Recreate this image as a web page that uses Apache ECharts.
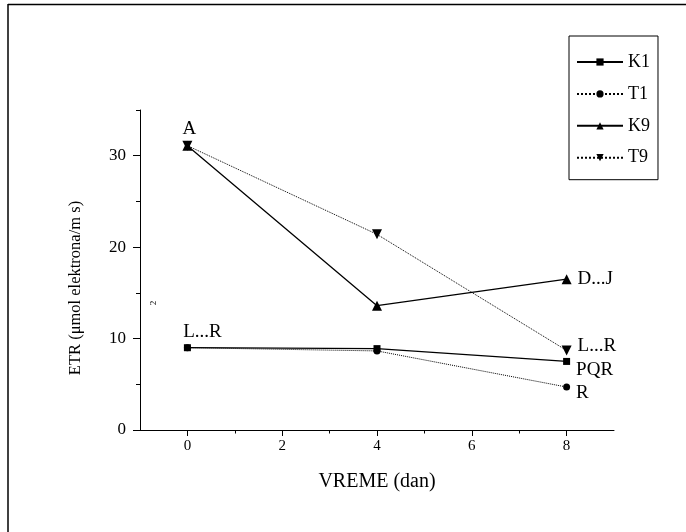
<!DOCTYPE html>
<html>
<head>
<meta charset="utf-8">
<script src="https://cdn.jsdelivr.net/npm/echarts@6/dist/echarts.min.js"></script>
<style>html,body{margin:0;padding:0;background:#fff}#c{width:686px;height:532px}</style>
</head>
<body>
<div id="c"></div>
<script>
// ---- data ----
const days = [0, 4, 8];
const seriesNames = ['K1', 'T1', 'K9', 'T9'];
const k1 = [9.0, 8.9, 7.5];
const t1 = [9.0, 8.65, 4.7];
const k9 = [31.1, 13.6, 16.5];
const t9 = [31.1, 21.4, 8.7];
const k1Labels = ['L...R', '', 'PQR'];
const t1Labels = ['', '', 'R'];
const k9Labels = ['A', '', 'D...J'];
const t9Labels = ['', '', 'L...R'];
const xMajorTicks = [0, 2, 4, 6, 8];
const xMinorTicks = [1, 3, 5, 7];
const yMajorTicks = [0, 10, 20, 30];
const yMinorTicks = [5, 15, 25, 35];
const xTitle = 'VREME (dan)';
const yTitle = 'ETR (\u03bcmol elektrona/m s)';

const FONT = '"Liberation Serif", "DejaVu Serif", serif';

// label styles by point index (styles only)
function labelStyle(idx, series) {
  if (idx === 0 && series === 'K9') return {position: 'top', distance: 2, offset: [2, 0]};
  if (idx === 0 && series === 'K1') return {position: 'top', distance: 3, offset: [15, 0]};
  if (series === 'K9') return {position: 'right', distance: 6, offset: [0, 0]};
  if (series === 'T9') return {position: 'right', distance: 6, offset: [0, -4]};
  if (series === 'K1') return {position: 'right', distance: 6, offset: [0, 9]};
  if (series === 'T1') return {position: 'right', distance: 6, offset: [0, 6]};
  return {position: 'right'};
}
function build(name, vals, labels) {
  return days.map((d, i) => {
    const o = {value: [d, vals[i]]};
    if (labels[i]) {
      o.label = Object.assign({show: true, formatter: labels[i], color: '#000', fontFamily: FONT, fontSize: 19}, labelStyle(i, name));
    }
    return o;
  });
}

const lineSolid = {color: '#000', width: 1.3, type: 'solid'};
const lineDot = {color: '#000', width: 1, type: 'dotted'};

const chart = echarts.init(document.getElementById('c'), null, {renderer: 'canvas'});
chart.setOption({
  animation: false,
  backgroundColor: '#fff',
  textStyle: {fontFamily: FONT},
  grid: {left: 140, top: 110, right: 72, bottom: 102},
  legend: {
    orient: 'vertical',
    left: 569, top: 36,
    data: seriesNames,
    itemWidth: 46, itemHeight: 9, itemGap: 13.9,
    padding: [17, 8, 13, 7],
    borderColor: '#000', borderWidth: 1,
    textStyle: {fontFamily: FONT, fontSize: 18, color: '#000'}
  },
  xAxis: [
    {
      type: 'value', min: -1, max: 9, interval: 1, position: 'bottom',
      name: xTitle, nameLocation: 'middle', nameGap: 42,
      nameTextStyle: {fontFamily: FONT, fontSize: 20, color: '#000'},
      axisLine: {show: true, onZero: false, lineStyle: {color: '#000', width: 1}},
      splitLine: {show: false},
      axisTick: {show: true, length: 6, customValues: xMajorTicks, lineStyle: {color: '#000'}},
      axisLabel: {show: true, customValues: xMajorTicks, margin: 9, fontFamily: FONT, fontSize: 15, color: '#000'}
    },
    {
      type: 'value', min: -1, max: 9, interval: 1, position: 'bottom',
      axisLine: {show: false, onZero: false},
      splitLine: {show: false},
      axisTick: {show: true, length: 3.5, customValues: xMinorTicks, lineStyle: {color: '#000'}},
      axisLabel: {show: false}
    }
  ],
  yAxis: [
    {
      type: 'value', min: 0, max: 35, interval: 5, position: 'left',
      name: yTitle, nameLocation: 'middle', nameGap: 56,
      nameTextStyle: {fontFamily: FONT, fontSize: 16.5, color: '#000', padding: [0, 36, 0, 0]},
      axisLine: {show: true, onZero: false, lineStyle: {color: '#000', width: 1}},
      splitLine: {show: false},
      axisTick: {show: true, length: 7, customValues: yMajorTicks, lineStyle: {color: '#000'}},
      axisLabel: {show: true, customValues: yMajorTicks, margin: 14, fontFamily: FONT, fontSize: 17, color: '#000'}
    },
    {
      type: 'value', min: 0, max: 35, interval: 5, position: 'left',
      axisLine: {show: false, onZero: false},
      splitLine: {show: false},
      axisTick: {show: true, length: 4, customValues: yMinorTicks, lineStyle: {color: '#000'}},
      axisLabel: {show: false}
    }
  ],
  series: [
    {name: 'K1', type: 'line', data: build('K1', k1, k1Labels), symbol: 'rect', symbolSize: 7,
     itemStyle: {color: '#000'}, lineStyle: lineSolid, z: 4},
    {name: 'T1', type: 'line', data: build('T1', t1, t1Labels), symbol: 'circle', symbolSize: 7,
     itemStyle: {color: '#000'}, lineStyle: lineDot, z: 3},
    {name: 'K9', type: 'line', data: build('K9', k9, k9Labels), symbol: 'triangle', symbolSize: 10,
     itemStyle: {color: '#000'}, lineStyle: lineSolid, z: 4},
    {name: 'T9', type: 'line', data: build('T9', t9, t9Labels), symbol: 'triangle', symbolRotate: 180, symbolSize: 10,
     itemStyle: {color: '#000'}, lineStyle: lineDot, z: 3}
  ],
  graphic: [
    {type: 'line', shape: {x1: 8, y1: 4.5, x2: 686, y2: 4.5}, style: {stroke: '#000', lineWidth: 1.5}},
    {type: 'line', shape: {x1: 8, y1: 4, x2: 8, y2: 532}, style: {stroke: '#000', lineWidth: 1.5}},
    {type: 'text', x: 154, y: 303, rotation: Math.PI / 2,
     style: {text: '2', font: '9px "Liberation Serif", serif', fill: '#000', align: 'center', verticalAlign: 'middle'}}
  ]
});
</script>
</body>
</html>
